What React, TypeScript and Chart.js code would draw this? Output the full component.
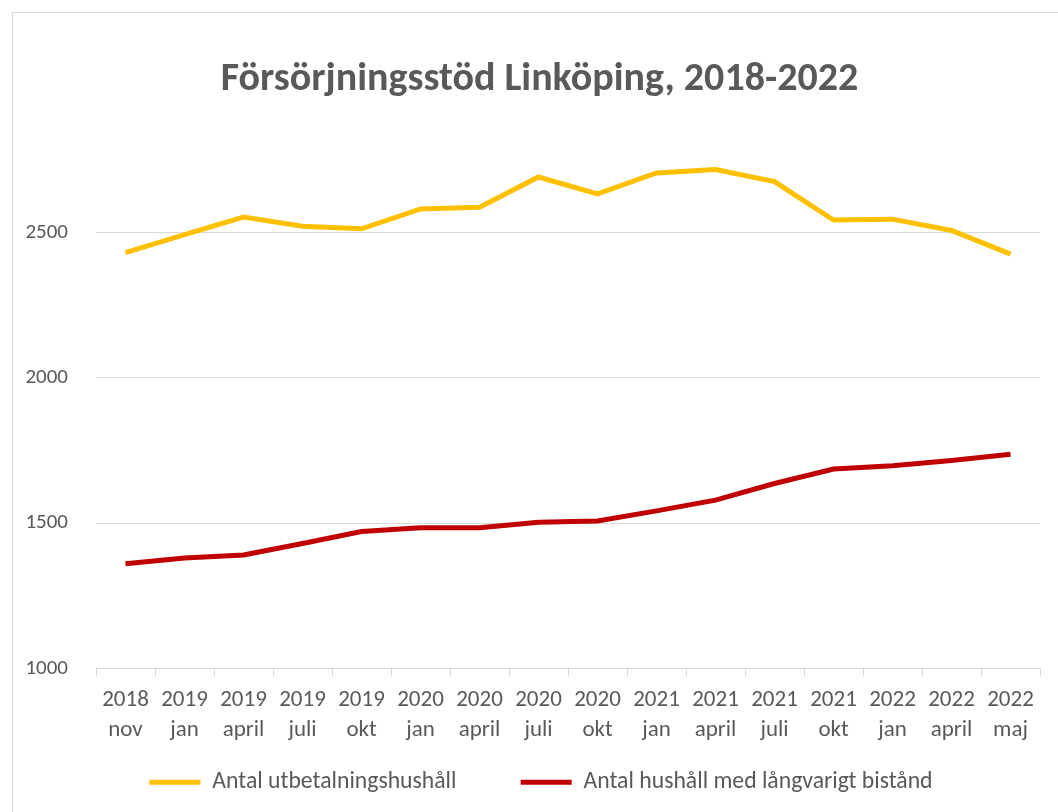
import React, { useEffect, useRef } from "react";
import { Chart, registerables } from "chart.js";

Chart.register(...registerables);

const categories: string[][] = [
  ["2018", "nov"], ["2019", "jan"], ["2019", "april"], ["2019", "juli"], ["2019", "okt"],
  ["2020", "jan"], ["2020", "april"], ["2020", "juli"], ["2020", "okt"],
  ["2021", "jan"], ["2021", "april"], ["2021", "juli"], ["2021", "okt"],
  ["2022", "jan"], ["2022", "april"], ["2022", "maj"],
];

const utbetalningshushall = [2430, 2492, 2552, 2521, 2512, 2580, 2586, 2690, 2632, 2704, 2716, 2674, 2542, 2545, 2506, 2425];
const langvarigtBistand = [1360, 1380, 1390, 1430, 1471, 1484, 1484, 1503, 1507, 1542, 1579, 1636, 1686, 1697, 1715, 1737];

const seriesNames = ["Antal utbetalningshushåll", "Antal hushåll med långvarigt bistånd"];
const titleText = "Försörjningsstöd Linköping, 2018-2022";
const yMin = 1000;
const yMax = 2800;
const yTickValues = [1000, 1500, 2000, 2500];

const FONT = 'Carlito, Calibri, "Liberation Sans", sans-serif';
const TEXT = "#595959";
const GRID = "#d9d9d9";
const LEGEND_GAP = "         ";

const boxShift = {
  id: "boxShift",
  afterLayout(chart: any) {
    if (chart.legend) chart.legend.left += 16;
    if (chart.titleBlock) chart.titleBlock.left += 13;
  },
};

export default function App() {
  const ref = useRef<HTMLCanvasElement | null>(null);
  useEffect(() => {
    if (!ref.current) return;
    const chart = new Chart(ref.current, {
      type: "line",
      data: {
        labels: categories,
        datasets: [
          {
            label: seriesNames[0],
            data: utbetalningshushall,
            borderColor: "#FFC000",
            backgroundColor: "#FFC000",
            borderWidth: 5,
            pointRadius: 0,
            tension: 0,
          },
          {
            label: seriesNames[1],
            data: langvarigtBistand,
            borderColor: "#C00000",
            backgroundColor: "#C00000",
            borderWidth: 5,
            pointRadius: 0,
            tension: 0,
          },
        ],
      },
      plugins: [boxShift],
      options: {
        animation: false,
        responsive: false,
        layout: { padding: { left: 13, right: 18, top: 0, bottom: 8 } },
        plugins: {
          title: {
            display: true,
            text: titleText,
            color: TEXT,
            font: { family: FONT, size: 40, weight: "bold", lineHeight: 1.2 },
            padding: { top: 43, bottom: 41 },
          },
          legend: {
            position: "bottom",
            labels: {
              color: TEXT,
              font: { family: FONT, size: 23.7 },
              boxWidth: 51,
              boxHeight: 5,
              padding: 16,
              generateLabels: (c: any) => {
                const items = Chart.defaults.plugins.legend.labels.generateLabels(c);
                return items.map((it: any, i: number) => ({
                  ...it,
                  text: i < items.length - 1 ? it.text + LEGEND_GAP : it.text,
                  lineWidth: 0,
                }));
              },
            },
          },
          tooltip: { enabled: false },
        },
        scales: {
          x: {
            offset: true,
            grid: {
              display: true,
              offset: true,
              drawOnChartArea: false,
              drawTicks: true,
              tickLength: 8,
              color: GRID,
            },
            border: { display: true, color: GRID },
            ticks: {
              color: TEXT,
              font: { family: FONT, size: 23, lineHeight: 1.3 },
              padding: 9,
              maxRotation: 0,
              autoSkip: false,
            },
          },
          y: {
            min: yMin,
            max: yMax,
            grid: { color: GRID, drawTicks: false },
            border: { display: false },
            afterBuildTicks: (scale: any) => {
              scale.ticks = yTickValues.map((v) => ({ value: v }));
            },
            afterFit: (scale: any) => {
              scale.width = 70;
            },
            ticks: {
              color: TEXT,
              font: { family: FONT, size: 21 },
              padding: 28,
              callback: (v: any) => String(v),
            },
          },
        },
      },
    });
    return () => chart.destroy();
  }, []);
  return (
    <div
      style={{
        position: "absolute",
        left: 12,
        top: 12,
        width: 1060,
        height: 820,
        border: "1px solid #d9d9d9",
        background: "#fff",
        overflow: "hidden",
      }}
    >
      <canvas ref={ref} width={1045} height={799} style={{ display: "block" }} />
    </div>
  );
}
